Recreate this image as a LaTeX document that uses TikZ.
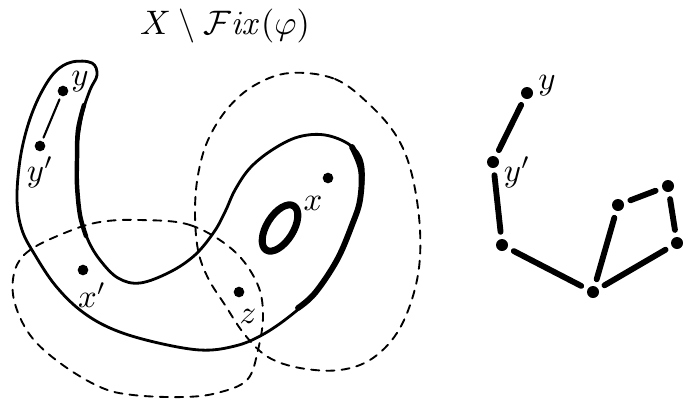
\documentclass[tikz,border=0pt]{standalone}
\begin{document}
\begin{tikzpicture}[x=0.03cm,y=-0.03cm,line cap=round,line join=round,
  blob/.style={line width=2.4pt},
  thickpart/.style={line width=5pt},
  hole/.style={line width=6pt},
  dashcurve/.style={line width=1.6pt,dash pattern=on 7pt off 6pt},
  pt/.style={circle,fill,inner sep=0pt,minimum size=0.32cm},
  gpt/.style={circle,fill,inner sep=0pt,minimum size=0.36cm},
  lbl/.style={inner sep=0pt,font=\fontsize{10}{12}\selectfont,scale=2.8},
  ttl/.style={inner sep=0pt,font=\fontsize{10}{12}\selectfont,scale=2.9},
  thinedge/.style={line width=1.8pt,shorten <=3pt,shorten >=3pt},
  gedge/.style={line width=5pt,shorten <=6pt,shorten >=6pt}]
\useasboundingbox (0,0) rectangle (683,408);

% title
\node[ttl] (title) at (225,26) {$X\setminus\mathcal{F}\mathit{ix}(\varphi)$};

% main blob
\draw[blob] plot[smooth cycle,tension=0.6] coordinates {
 (72,62) (55,72) (40,95) (28,125) (20,160) (17,200) (22,230) (35,255) (55,285)
 (80,310) (110,328) (150,341) (200,350) (235,346) (262,335) (290,316) (315,293)
 (337,260) (352,225) (362,190) (362,162) (350,145) (325,135) (298,137) (272,150)
 (250,168) (235,190) (225,212) (214,232) (195,255) (170,272) (140,283) (118,278)
 (100,260) (88,240) (80,215) (77,185) (77,150) (82,115) (90,90) (97,75) (92,63)};
\draw[thickpart] plot[smooth,tension=0.6] coordinates {
 (352,147) (361,170) (360,200) (352,225) (337,260) (315,293) (298,308)};
\draw[line width=3.8pt] plot[smooth,tension=0.6] coordinates {
 (84,105) (78,130) (77,160) (77,185) (80,215) (86,236)};

% hole
\draw[hole,shift={(280,228)},rotate=58] (0,0) ellipse [x radius=0.78cm,y radius=0.4cm];

% dashed curves
\draw[dashcurve] plot[smooth cycle,tension=0.6] coordinates {
 (290,73) (335,79) (370,105) (397,137) (412,175) (420,230) (417,280) (400,328)
 (373,358) (340,370) (300,368) (268,357) (245,335) (225,305) (208,278) (198,250)
 (195,212) (198,175) (208,140) (228,108) (255,85)};
\draw[dashcurve] plot[smooth cycle,tension=0.6] coordinates {
 (140,220) (190,225) (233,250) (257,283) (263,315) (258,350) (247,380) (217,393)
 (183,397) (133,395) (100,387) (60,363) (30,335) (14,300) (15,270) (30,250)
 (67,232) (100,222)};

% points on the left
\node[pt] (y) at (63,91) {};
\node[pt] (yp) at (40,146) {};
\node[pt] (x) at (328,178) {};
\node[pt] (z) at (239,292) {};
\node[pt] (xp) at (83,270) {};
\draw[thinedge] (y) -- (yp);
\node[lbl] (ly) at (80,82) {$y$};
\node[lbl] (lyp) at (40,172) {$y'$};
\node[lbl] (lx) at (313,203) {$x$};
\node[lbl] (lz) at (248,316) {$z$};
\node[lbl] (lxp) at (92,295) {$x'$};

% right graph
\node[gpt] (g1) at (527,93) {};
\node[gpt] (g2) at (493,162) {};
\node[gpt] (g3) at (502,245) {};
\node[gpt] (g4) at (593,292) {};
\node[gpt] (g5) at (618,205) {};
\node[gpt] (g6) at (668,186) {};
\node[gpt] (g7) at (677,243) {};
\node[lbl] (lg1) at (547,86) {$y$};
\node[lbl] (lg2) at (517,172) {$y'$};
\draw[gedge] (g1) -- (g2);
\draw[gedge] (g2) -- (g3);
\draw[gedge] (g3) -- (g4);
\draw[gedge] (g4) -- (g5);
\draw[gedge] (g5) -- (g6);
\draw[gedge] (g6) -- (g7);
\draw[gedge] (g7) -- (g4);
\end{tikzpicture}
\end{document}
